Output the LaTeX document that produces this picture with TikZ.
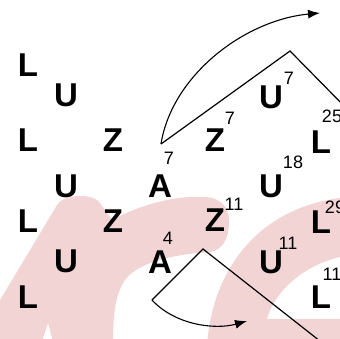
\documentclass[tikz,border=0pt]{standalone}
\usepackage{fontspec}
\setmainfont{Liberation Sans}
\usetikzlibrary{arrows.meta}
\definecolor{blush}{RGB}{243,212,213}
\tikzset{
  letter/.style={inner sep=0pt, font=\bfseries\fontsize{33}{33}\selectfont},
  idx/.style={inner sep=0pt, font=\fontsize{18}{18}\selectfont},
  fold/.style={line width=1.2pt, line join=miter},
  turn/.style={line width=1.1pt, -{Latex[length=12pt,width=9pt]}},
}

\begin{document}
\begin{tikzpicture}[x=1pt, y=-1pt]
    \useasboundingbox (0,0) rectangle (340,338);
    \clip (0,0) rectangle (340,338);

    % pink background strokes
    \fill[blush] (0,300) -- (57,205) .. controls (62,195) and (92,192) .. (100,203)
        -- (112,220) .. controls (140,205) and (175,195) .. (205,197)
        .. controls (225,198) and (230,212) .. (229,225)
        .. controls (228,240) and (222,250) .. (210,252)
        .. controls (180,254) and (140,260) .. (125,280)
        .. controls (115,295) and (113,315) .. (113,345)
        -- (52,345) -- (52,338) -- (48,323) -- (43,338) -- (43,345) -- (0,345) -- cycle;
    \fill[blush] (207,345) .. controls (213,265) and (262,208) .. (340,198)
        -- (345,198) -- (345,257) -- (340,257)
        .. controls (305,265) and (275,290) .. (267,319)
        -- (345,319) -- (345,345) -- cycle;

    % letters
    \node[letter] (lA) at (28,65) {L};
    \node[letter] (uA) at (66,95) {U};
    \node[letter] (uB) at (271,97) {U};
    \node[letter] (lB) at (28,140) {L};
    \node[letter] (zA) at (113,140) {Z};
    \node[letter] (zB) at (215,140) {Z};
    \node[letter] (lC) at (321,142) {L};
    \node[letter] (uC) at (66,186) {U};
    \node[letter] (aA) at (160,186) {A};
    \node[letter] (uD) at (271,186) {U};
    \node[letter] (lD) at (28,221) {L};
    \node[letter] (zC) at (113,221) {Z};
    \node[letter] (zD) at (215,220) {Z};
    \node[letter] (lE) at (321,222) {L};
    \node[letter] (uE) at (66,261) {U};
    \node[letter] (aB) at (160,262) {A};
    \node[letter] (uF) at (271,262) {U};
    \node[letter] (lF) at (28,297) {L};
    \node[letter] (lG) at (321,297) {L};

    % indices
    \node[idx] (uB-i) at (289,78) {7};
    \node[idx] (zB-i) at (230,118) {7};
    \node[idx] (lC-i) at (332,116) {25};
    \node[idx] (aA-i) at (169,158) {7};
    \node[idx] (uD-i) at (293,162) {18};
    \node[idx] (zD-i) at (234,204) {11};
    \node[idx] (lE-i) at (335,207) {29};
    \node[idx] (aB-i) at (168,238) {4};
    \node[idx] (uF-i) at (288,243) {11};
    \node[idx] (lG-i) at (332,274) {11};

    % folds and turns
    \coordinate (top1) at (161,144);
    \coordinate (top2) at (290,51);
    \coordinate (top3) at (352,114);
    \coordinate (topend) at (320,13);
    \coordinate (bot1) at (152,300);
    \coordinate (bot2) at (203,249);
    \coordinate (bot3) at (325,345);
    \coordinate (botend) at (247,321);

    \draw[fold] (top1) -- (top2) -- (top3);
    \draw[turn] (top1) .. controls (172,75) and (245,20) .. (topend);
    \draw[fold] (bot1) -- (bot2) -- (bot3);
    \draw[turn] (bot1) .. controls (175,325) and (215,330) .. (botend);
\end{tikzpicture}
\end{document}
